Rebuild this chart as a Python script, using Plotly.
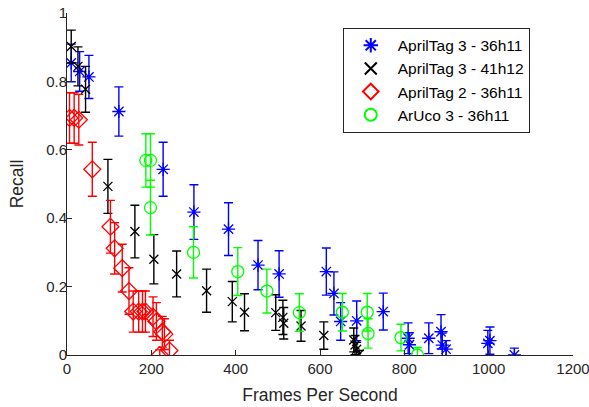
import plotly.graph_objects as go

# AprilTag 3 - 36h11 (blue)
at3_36_fps = [10, 30, 52, 123, 228, 301, 383, 453, 503, 615, 633, 649, 687, 750, 809, 812, 858, 887, 890, 899, 998, 1003, 1061]
at3_36_rec = [0.854, 0.829, 0.813, 0.712, 0.543, 0.418, 0.368, 0.263, 0.237, 0.244, 0.180, 0.098, 0.100, 0.127, 0.049, 0.030, 0.049, 0.068, 0.029, 0.017, 0.034, 0.042, 0.0]
at3_36_err = [0.055, 0.058, 0.063, 0.072, 0.079, 0.080, 0.077, 0.072, 0.068, 0.069, 0.063, 0.055, 0.058, 0.054, 0.045, 0.035, 0.045, 0.050, 0.035, 0.025, 0.038, 0.040, 0.020]

# AprilTag 3 - 41h12 (black)
at3_41_fps = [10, 26, 44, 97, 161, 206, 260, 331, 392, 421, 495, 512, 514, 555, 609, 680, 683, 687, 693]
at3_41_rec = [0.902, 0.844, 0.777, 0.493, 0.361, 0.280, 0.237, 0.188, 0.156, 0.125, 0.124, 0.110, 0.093, 0.085, 0.057, 0.044, 0.029, 0.017, 0.003]
at3_41_err = [0.048, 0.057, 0.067, 0.079, 0.077, 0.072, 0.067, 0.063, 0.059, 0.054, 0.052, 0.050, 0.046, 0.045, 0.040, 0.035, 0.028, 0.020, 0.010]

# AprilTag 2 - 36h11 (red)
at2_36_fps = [6, 17, 28, 60, 103, 113, 131, 147, 157, 170, 179, 186, 204, 212, 226, 231, 220, 243]
at2_36_rec = [0.693, 0.693, 0.688, 0.543, 0.375, 0.312, 0.254, 0.187, 0.127, 0.127, 0.127, 0.127, 0.112, 0.098, 0.068, 0.061, 0.0, 0.013]
at2_36_err = [0.074, 0.074, 0.074, 0.079, 0.077, 0.075, 0.070, 0.068, 0.060, 0.060, 0.060, 0.060, 0.058, 0.055, 0.045, 0.045, 0.015, 0.030]

# ArUco 3 - 36h11 (green)
aruco_fps = [187, 198, 198, 300, 405, 474, 551, 653, 712, 714, 792, 831]
aruco_rec = [0.569, 0.569, 0.431, 0.300, 0.244, 0.187, 0.124, 0.125, 0.125, 0.063, 0.051, 0.0]
aruco_err = [0.078, 0.078, 0.080, 0.075, 0.070, 0.064, 0.055, 0.055, 0.055, 0.043, 0.039, 0.022]

x_ticks = [0, 200, 400, 600, 800, 1000, 1200]
y_ticks = [0, 0.2, 0.4, 0.6, 0.8, 1]
y_tick_labels = ["0", "0.2", "0.4", "0.6", "0.8", "1"]

series = [
    ("AprilTag 3 - 36h11", at3_36_fps, at3_36_rec, at3_36_err, "#0000FF", "asterisk-open", 11),
    ("AprilTag 3 - 41h12", at3_41_fps, at3_41_rec, at3_41_err, "#000000", "x-thin-open", 9),
    ("AprilTag 2 - 36h11", at2_36_fps, at2_36_rec, at2_36_err, "#FF0000", "diamond-open", 13),
    ("ArUco 3 - 36h11", aruco_fps, aruco_rec, aruco_err, "#00FF00", "circle-open", 12),
]

fig = go.Figure()
for name, xs, ys, es, col, sym, sz in series:
    fig.add_trace(go.Scatter(
        x=xs, y=ys, mode="markers", name=name,
        marker=dict(symbol=sym, size=sz, color=col, line=dict(color=col, width=1.3)),
        error_y=dict(type="data", array=es, visible=True, color=col, thickness=1.4, width=4.5),
    ))

font_fam = "Liberation Sans, Arial, Helvetica, sans-serif"
fig.update_layout(
    width=589, height=407,
    margin=dict(l=67, r=16, t=13, b=52, autoexpand=False),
    paper_bgcolor="white", plot_bgcolor="white",
    font=dict(family=font_fam, size=15, color="#262626"),
    showlegend=True,
    legend=dict(
        x=0.545, y=0.957, xanchor="left", yanchor="top",
        bgcolor="white", bordercolor="#262626", borderwidth=1,
        font=dict(size=15.5, color="#000000"),
        itemsizing="constant", itemwidth=44,
        tracegroupgap=0,
    ),
    xaxis=dict(
        range=[0, 1200], tickvals=x_ticks, ticks="inside", ticklen=5,
        tickcolor="#262626", showline=True, linecolor="#262626", linewidth=1,
        showgrid=False, zeroline=False, mirror=False, automargin=False,
        ticklabeloverflow="allow",
        title=dict(text="Frames Per Second", font=dict(size=17.5), standoff=12),
        tickfont=dict(size=15),
    ),
    yaxis=dict(
        range=[0, 1], tickvals=y_ticks, ticktext=y_tick_labels, ticks="inside", ticklen=5,
        tickcolor="#262626", showline=True, linecolor="#262626", linewidth=1,
        showgrid=False, zeroline=False, mirror=False, automargin=False,
        ticklabelstandoff=-4, ticklabeloverflow="allow",
        title=dict(text="Recall", font=dict(size=17.5), standoff=18),
        tickfont=dict(size=15),
    ),
)

fig.write_html("out.html", config={"displayModeBar": False},
               post_script="document.body.style.margin='0px';")
